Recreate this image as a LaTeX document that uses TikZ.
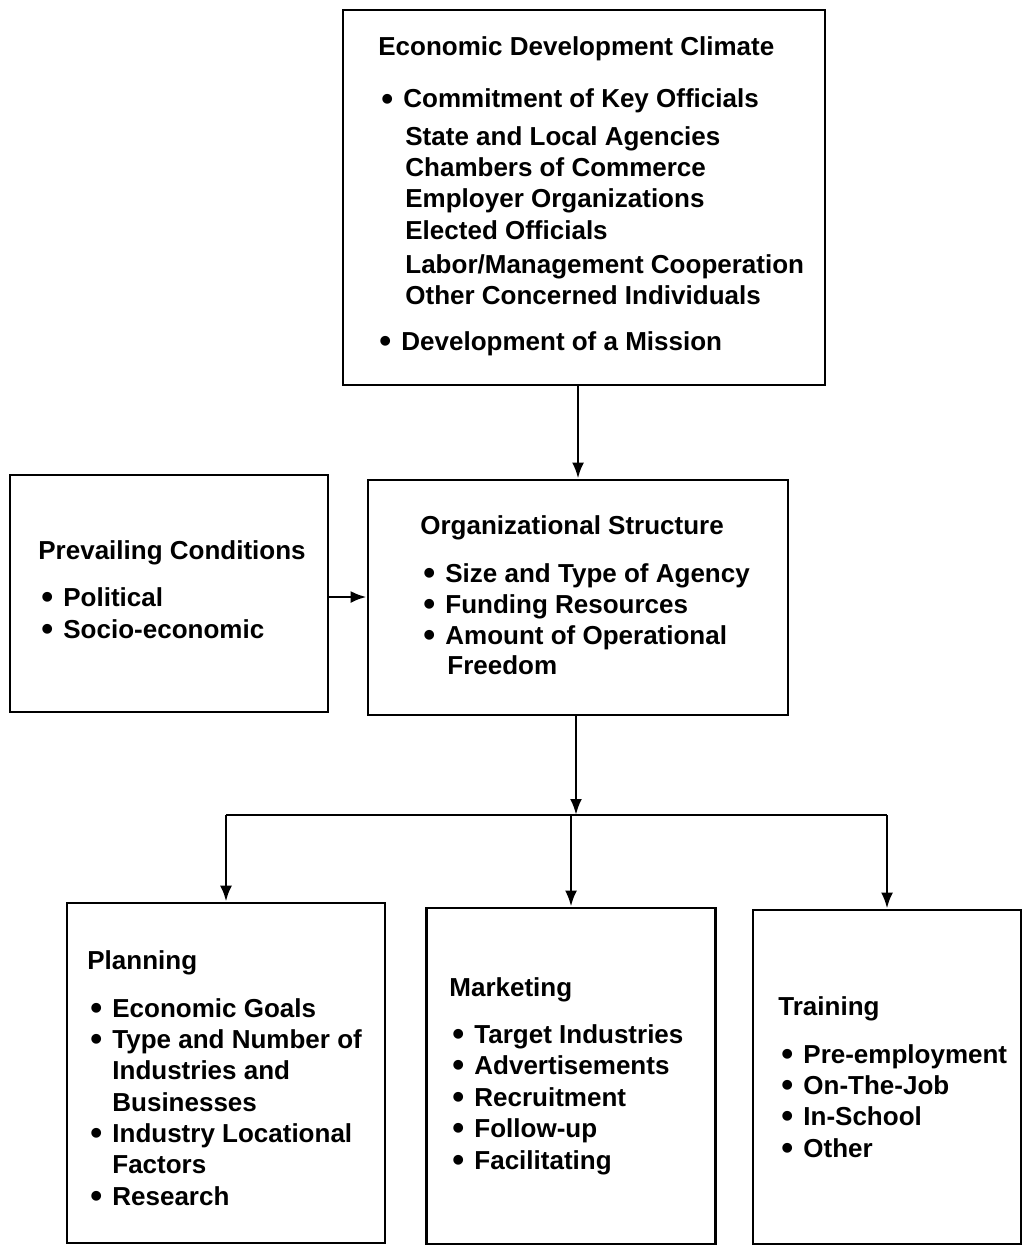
\documentclass[tikz,border=0pt]{standalone}
\usepackage{fontspec}
\setmainfont{Liberation Sans}
\usetikzlibrary{arrows.meta}
\tikzset{
  box/.style={draw, line width=1.4pt, inner sep=0pt},
  txt/.style={anchor=base west, inner sep=0pt, font=\fontsize{13}{15}\selectfont\bfseries},
  arr/.style={line width=1.4pt, -{Latex[length=8pt,width=6pt]}},
  ln/.style={line width=1.4pt}
}
\newcommand\bul[1]{\makebox[11pt][l]{\raisebox{-1.2pt}{\fontsize{17}{17}\selectfont\textbullet}}#1}
\begin{document}
\begin{tikzpicture}[x=0.5pt,y=-0.5pt]
\useasboundingbox (0,0) rectangle (1023,1246);
% boxes
\node[box, minimum width=241pt, minimum height=187.5pt] (top) at (584,197.5) {};
\node[box, minimum width=159pt, minimum height=118.5pt] (prev) at (169,593.5) {};
\node[box, minimum width=210pt, minimum height=117.5pt] (org) at (578,597.5) {};
\node[box, minimum width=159pt, minimum height=170pt] (plan) at (226,1073) {};
\node[box, minimum width=144.5pt, minimum height=168pt] (mkt) at (571,1076) {};
\node[box, minimum width=134pt, minimum height=167pt] (train) at (887,1077) {};
% top box text
\node[txt] (t0) at (378,56) {Economic Development Climate};
\node[txt] (t1) at (381,108) {\bul{Commitment of Key Officials}};
\node[txt] (t2) at (405,146) {State and Local Agencies};
\node[txt] (t3) at (405,177) {Chambers of Commerce};
\node[txt] (t4) at (405,208) {Employer Organizations};
\node[txt] (t5) at (405,240) {Elected Officials};
\node[txt] (t6) at (405,273) {Labor/Management Cooperation};
\node[txt] (t7) at (405,304) {Other Concerned Individuals};
\node[txt] (t8) at (379,350) {\bul{Development of a Mission}};
% prevailing
\node[txt] (p0) at (38,559) {Prevailing Conditions};
\node[txt] (p1) at (41,606) {\bul{Political}};
\node[txt] (p2) at (41,638) {\bul{Socio-economic}};
% org
\node[txt] (o0) at (420,534) {Organizational Structure};
\node[txt] (o1) at (423,582) {\bul{Size and Type of Agency}};
\node[txt] (o2) at (423,613) {\bul{Funding Resources}};
\node[txt] (o3) at (423,644) {\bul{Amount of Operational}};
\node[txt] (o4) at (447,674) {Freedom};
% planning
\node[txt] (a0) at (87,969) {Planning};
\node[txt] (a1) at (90,1017) {\bul{Economic Goals}};
\node[txt] (a2) at (90,1048) {\bul{Type and Number of}};
\node[txt] (a3) at (112,1079) {Industries and};
\node[txt] (a4) at (112,1111) {Businesses};
\node[txt] (a5) at (90,1142) {\bul{Industry Locational}};
\node[txt] (a6) at (112,1173) {Factors};
\node[txt] (a7) at (90,1205) {\bul{Research}};
% marketing
\node[txt] (m0) at (449,996) {Marketing};
\node[txt] (m1) at (452,1043) {\bul{Target Industries}};
\node[txt] (m2) at (452,1074) {\bul{Advertisements}};
\node[txt] (m3) at (452,1106) {\bul{Recruitment}};
\node[txt] (m4) at (452,1137) {\bul{Follow-up}};
\node[txt] (m5) at (452,1169) {\bul{Facilitating}};
% training
\node[txt] (r0) at (778,1015) {Training};
\node[txt] (r1) at (781,1063) {\bul{Pre-employment}};
\node[txt] (r2) at (781,1094) {\bul{On-The-Job}};
\node[txt] (r3) at (781,1125) {\bul{In-School}};
\node[txt] (r4) at (781,1157) {\bul{Other}};
% connectors
\coordinate (j) at (576,815);
\draw[arr] (top.south -| org.north) -- (org.north);
\draw[arr] (prev.east |- 0,597) -- (org.west |- 0,597);
\draw[arr] (j |- org.south) -- (j);
\draw[ln] (plan.north |- j) -- (train.north |- j);
\draw[arr] (plan.north |- j) -- (plan.north);
\draw[arr] (mkt.north |- j) -- (mkt.north);
\draw[arr] (train.north |- j) -- (train.north);
\end{tikzpicture}
\end{document}
